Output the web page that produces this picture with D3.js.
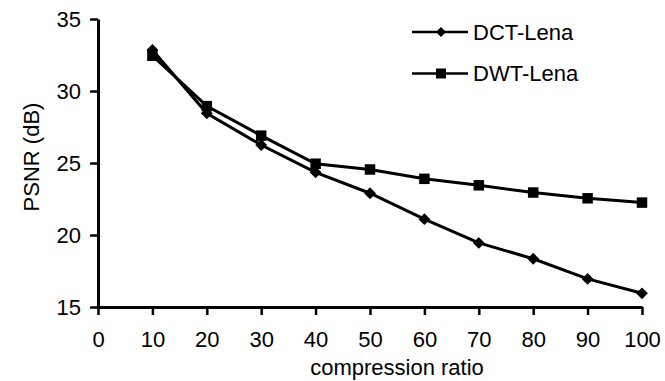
<!DOCTYPE html>
<html>
<head>
<meta charset="utf-8">
<script src="https://cdn.jsdelivr.net/npm/d3@7"></script>
<style>
  body { margin: 0; background: #fff; }
  text { font-family: "Liberation Sans", Arial, sans-serif; fill: #000; }
</style>
</head>
<body>
<div id="chart"></div>
<script>
// DATA
var ratios = [10, 20, 30, 40, 50, 60, 70, 80, 90, 100]
var dctLena = [32.85, 28.45, 26.25, 24.35, 22.9, 21.1, 19.45, 18.35, 16.95, 15.95]
var dwtLena = [32.45, 28.95, 26.9, 24.95, 24.55, 23.9, 23.45, 22.95, 22.55, 22.25]
var xTicks = [0, 10, 20, 30, 40, 50, 60, 70, 80, 90, 100]
var yTicks = [15, 20, 25, 30, 35]
var seriesNames = ['DCT-Lena', 'DWT-Lena']

var MARGIN = { LEFT: 98, RIGHT: 23, TOP: 19, BOTTOM: 74 }
var WIDTH = 665, HEIGHT = 381
var W = WIDTH - MARGIN.LEFT - MARGIN.RIGHT
var H = HEIGHT - MARGIN.TOP - MARGIN.BOTTOM
var FONT = '22px'

const svg = d3.select('#chart').append('svg')
  .attr('width', WIDTH).attr('height', HEIGHT)
const g = svg.append('g').attr('transform', `translate(${MARGIN.LEFT},${MARGIN.TOP})`)

// SCALES
const x = d3.scaleLinear().domain([0, 100]).range([0, W])
const y = d3.scaleLinear().domain([15, 35]).range([H, 0])

// AXES
const gx = g.append('g').attr('transform', `translate(0,${H})`)
  .call(d3.axisBottom(x).tickValues(xTicks).tickSize(8).tickSizeOuter(0).tickPadding(16))
const gy = g.append('g')
  .call(d3.axisLeft(y).tickValues(yTicks).tickSize(8).tickSizeOuter(0).tickPadding(9))
;[gx, gy].forEach(a => {
  a.select('.domain').attr('stroke', '#000').attr('stroke-width', 3)
  a.selectAll('.tick line').attr('stroke', '#000').attr('stroke-width', 2.5)
  a.selectAll('.tick text').style('font-size', FONT).attr('font-family', '"Liberation Sans", Arial, sans-serif')
})

// LABELS (title sits a little right of the axis centre, as in the original)
g.append('text').text('compression ratio')
  .attr('x', x(50) + 27).attr('y', H + 68)
  .attr('text-anchor', 'middle').style('font-size', FONT)
g.append('text').text('PSNR (dB)')
  .attr('transform', `translate(${-59},${138}) rotate(-90)`)
  .attr('text-anchor', 'middle').style('font-size', FONT)

// LINES
const line = d3.line().x((d, i) => x(ratios[i])).y(d => y(d))
;[dctLena, dwtLena].forEach((s, k) => {
  g.append('path').attr('d', line(s))
    .attr('fill', 'none').attr('stroke', '#000').attr('stroke-width', 3)
  g.selectAll('.m' + k).data(s).join('path')
    .attr('class', 'm' + k)
    .attr('d', d3.symbol().type(d3.symbolSquare).size(k == 0 ? 70 : 110))
    .attr('transform', (d, i) => `translate(${x(ratios[i])},${y(d)})` + (k == 0 ? ' rotate(45)' : ''))
    .attr('fill', '#000')
})

// LEGEND
const legend = svg.append('g').attr('transform', 'translate(412,32)')
seriesNames.forEach((name, k) => {
  const lg = legend.append('g').attr('transform', `translate(0,${k * 41.5})`)
  lg.append('line').attr('x1', 0).attr('x2', 56).attr('y1', 0).attr('y2', 0)
    .attr('stroke', '#000').attr('stroke-width', 2.5)
  lg.append('path').attr('d', d3.symbol().type(d3.symbolSquare).size(k == 0 ? 50 : 100)())
    .attr('transform', `translate(29,0)` + (k == 0 ? ' rotate(45)' : ''))
    .attr('fill', '#000')
  lg.append('text').text(name).attr('x', 61).attr('y', 7.5).style('font-size', FONT)
})
</script>
</body>
</html>
